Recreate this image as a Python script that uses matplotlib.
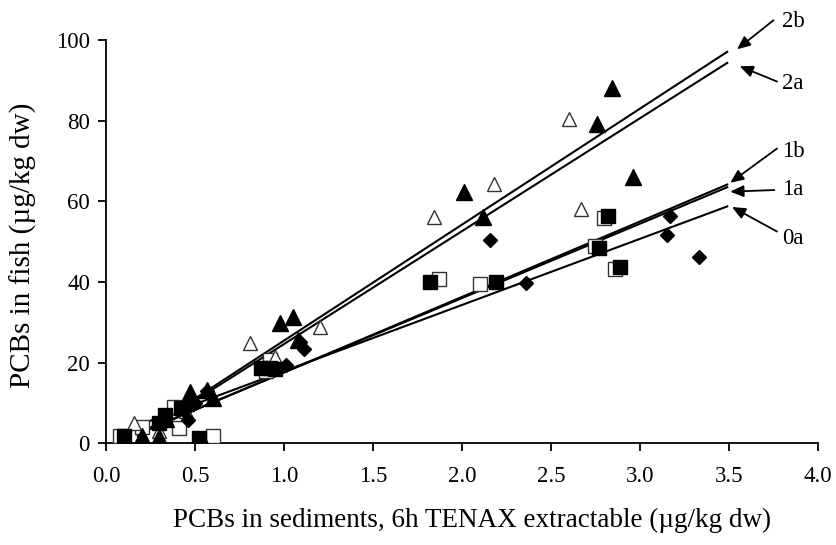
import matplotlib
matplotlib.use("Agg")
import matplotlib.pyplot as plt
import numpy as np

plt.rcParams['font.family'] = ['Liberation Serif', 'DejaVu Serif']

# data (x: 6h TENAX extractable, y: fish)
tri_fill_x = [0.20, 0.30, 0.34, 0.47, 0.45, 0.57, 0.60, 0.54, 0.98, 1.05, 1.08, 2.01, 2.12, 2.76, 2.84, 2.96]
tri_fill_y = [1.8, 1.5, 6.0, 12.8, 10.0, 13.3, 11.2, 0.8, 29.9, 31.4, 25.5, 62.3, 56.2, 79.1, 88.0, 66.0]

tri_open_x = [0.16, 0.30, 0.45, 0.81, 0.95, 1.20, 1.84, 2.18, 2.60, 2.67]
tri_open_y = [5.0, 3.0, 8.0, 24.8, 21.5, 28.8, 56.2, 64.2, 80.3, 58.0]

sq_fill_x = [0.10, 0.33, 0.30, 0.42, 0.52, 0.87, 0.92, 0.95, 1.82, 2.19, 2.77, 2.82, 2.89]
sq_fill_y = [1.7, 7.1, 5.0, 8.7, 1.3, 18.6, 18.6, 18.3, 39.9, 39.9, 48.5, 56.4, 43.6]

sq_open_x = [0.08, 0.20, 0.38, 0.41, 0.60, 0.92, 0.90, 1.87, 2.10, 2.75, 2.80, 2.86]
sq_open_y = [1.7, 4.0, 9.1, 3.8, 1.7, 20.7, 18.0, 40.7, 39.5, 48.9, 55.8, 43.2]

dia_x = [0.46, 0.44, 0.57, 0.50, 1.01, 1.09, 1.11, 2.16, 2.36, 3.17, 3.15, 3.33]
dia_y = [5.8, 8.0, 13.0, 10.0, 19.5, 25.0, 23.5, 50.4, 39.7, 56.4, 51.7, 46.1]

# regression lines: name, slope, intercept
line_names = ['2b', '2a', '1b', '1a', '0a']
line_slopes = [28.76, 28.0, 18.7, 18.45, 16.4]
line_icepts = [-3.3, -3.4, -1.1, -0.9, 1.5]
line_x0 = 0.18
line_x1 = 3.49

# arrow labels: text position, arrow tail, arrow head
label_x = 3.80
label_y = [104.5, 89.3, 72.3, 63.0, 50.8]
tail_xy = [(3.75, 104.9), (3.77, 89.7), (3.77, 73.1), (3.755, 62.8), (3.77, 52.5)]
head_xy = [(3.545, 97.7), (3.56, 93.5), (3.507, 64.6), (3.507, 62.4), (3.517, 58.6)]

fig = plt.figure(figsize=(8.37, 5.45), dpi=100)
ax = fig.add_axes([0.1266, 0.1866, 0.8507, 0.74])

xs = np.array([line_x0, line_x1])
for s, b in zip(line_slopes, line_icepts):
    ax.plot(xs, s * xs + b, color='black', lw=1.5, zorder=2)

ax.plot(sq_open_x, sq_open_y, 's', ms=9.5, mfc='white', mec='#333333', mew=1.0, zorder=3)
ax.plot(tri_open_x, tri_open_y, '^', ms=10.5, mfc='white', mec='#333333', mew=1.0, zorder=3)
ax.plot(sq_fill_x, sq_fill_y, 's', ms=10.5, mfc='black', mec='black', zorder=4)
ax.plot(tri_fill_x, tri_fill_y, '^', ms=11, mfc='black', mec='black', zorder=4)
ax.plot(dia_x, dia_y, 'D', ms=7.5, mfc='black', mec='black', zorder=4)

for name, ly, t, h in zip(line_names, label_y, tail_xy, head_xy):
    ax.annotate('', xy=h, xytext=t, annotation_clip=False,
                arrowprops=dict(arrowstyle='-|>,head_length=0.8,head_width=0.35',
                                color='black', lw=1.3, shrinkA=0, shrinkB=0))
    ax.text(label_x, ly, name, fontsize=16.5, ha='left', va='center', clip_on=False)

ax.set_xlim(0, 4.0)
ax.set_ylim(0, 100)
ax.set_xticks(np.arange(0, 4.01, 0.5))
ax.set_xticklabels(['%.1f' % v for v in np.arange(0, 4.01, 0.5)])
ax.set_yticks(range(0, 101, 20))
ax.spines['top'].set_visible(False)
ax.spines['right'].set_visible(False)
ax.spines['left'].set_linewidth(1.3)
ax.spines['bottom'].set_linewidth(1.3)
ax.tick_params(direction='out', length=5.5, width=1.3, labelsize=16.5)
ax.tick_params(axis='x', pad=11)
ax.tick_params(axis='y', pad=6)

ax.set_xlabel('PCBs in sediments, 6h TENAX extractable (µg/kg dw)', fontsize=19.5, va='center')
ax.set_ylabel('PCBs in fish (µg/kg dw)', fontsize=21, va='center')
ax.xaxis.set_label_coords(0.514, -0.19)
ax.yaxis.set_label_coords(-0.116, 0.49)

fig.savefig('out.png', dpi=100)
